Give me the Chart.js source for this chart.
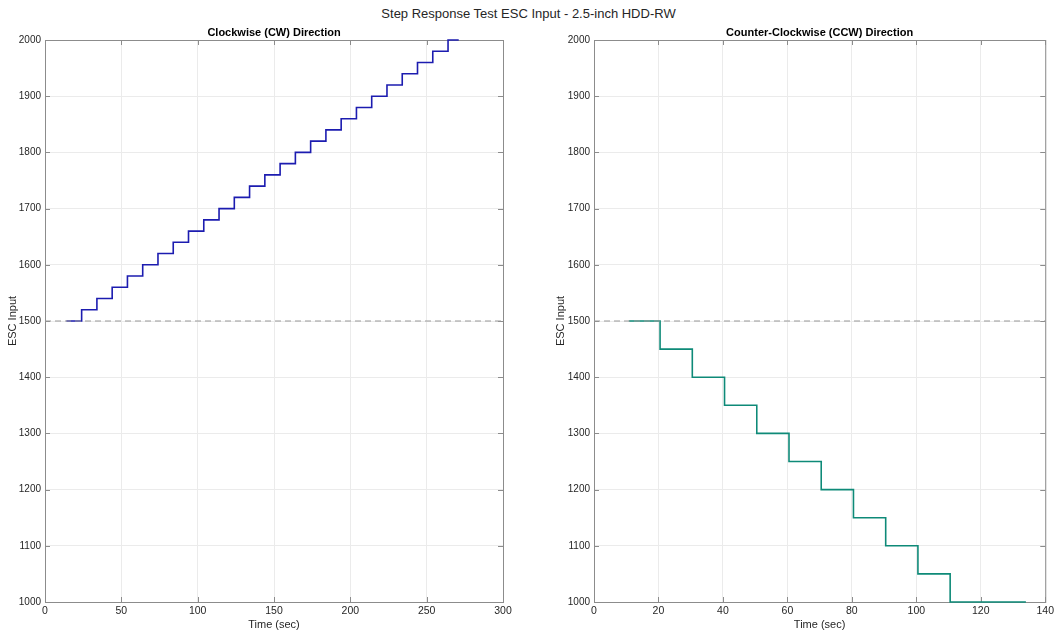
<!DOCTYPE html>
<html>
<head>
<meta charset="utf-8">
<script src="https://cdn.jsdelivr.net/npm/chart.js@4"></script>
<style>
  body { margin: 0; background: #fff; font-family: "Liberation Sans", Arial, sans-serif; }
  #wrap { position: relative; width: 1057px; height: 632px; }
  #mainTitle { position: absolute; top: 6px; left: 0; width: 1057px; text-align: center; font-size: 13px; color: #262626; }
  #cw { position: absolute; left: 0; top: 0; }
  #ccw { position: absolute; left: 540px; top: 0; }
</style>
</head>
<body>
<div id="wrap">
  <div id="mainTitle">Step Response Test ESC Input - 2.5-inch HDD-RW</div>
  <canvas id="cw" width="540" height="632"></canvas>
  <canvas id="ccw" width="517" height="632"></canvas>
</div>
<script>
// datos CW
const cwTime = [14, 24, 34, 44, 54, 64, 74, 84, 94, 104, 114, 124, 134, 144, 154, 164, 174, 184, 194, 204, 214, 224, 234, 244, 254, 264, 271];
const cwInput = [1500, 1520, 1540, 1560, 1580, 1600, 1620, 1640, 1660, 1680, 1700, 1720, 1740, 1760, 1780, 1800, 1820, 1840, 1860, 1880, 1900, 1920, 1940, 1960, 1980, 2000, 2000];

// datos CCW
const ccwTime = [10.8, 20.5, 30.5, 40.5, 50.5, 60.5, 70.5, 80.5, 90.5, 100.5, 110.5, 134];
const ccwInput = [1500, 1450, 1400, 1350, 1300, 1250, 1200, 1150, 1100, 1050, 1000, 1000];

const neutral = 1500;
const yTicks = [1000, 1100, 1200, 1300, 1400, 1500, 1600, 1700, 1800, 1900, 2000];

const fontFam = '"Liberation Sans", Arial, sans-serif';

// caja + ticks hacia adentro + subtitulo
const boxPlugin = {
  id: "box",
  beforeDatasetsDraw(chart) {
    const { ctx, chartArea: a, scales } = chart;
    ctx.save();
    ctx.strokeStyle = "#8c8c8c";
    ctx.lineWidth = 1;
    ctx.strokeRect(a.left + 0.5, a.top + 0.5, a.right - a.left, a.bottom - a.top);
    ctx.beginPath();
    scales.x.ticks.forEach((t) => {
      const px = Math.round(scales.x.getPixelForValue(t.value)) + 0.5;
      ctx.moveTo(px, a.bottom); ctx.lineTo(px, a.bottom - 5);
      ctx.moveTo(px, a.top); ctx.lineTo(px, a.top + 5);
    });
    scales.y.ticks.forEach((t) => {
      const py = Math.round(scales.y.getPixelForValue(t.value)) + 0.5;
      ctx.moveTo(a.left, py); ctx.lineTo(a.left + 5, py);
      ctx.moveTo(a.right, py); ctx.lineTo(a.right - 5, py);
    });
    ctx.stroke();
    ctx.restore();
  },
  afterDraw(chart, args, opts) {
    const { ctx, chartArea: a } = chart;
    ctx.save();
    ctx.fillStyle = "#000";
    ctx.font = "bold 11px " + fontFam;
    ctx.textAlign = "center";
    ctx.textBaseline = "bottom";
    ctx.fillText(opts.text, (a.left + a.right) / 2, a.top - 2);
    ctx.restore();
  },
};

function makeChart(id, times, values, color, xMax, xStep, yAxisW, padRight, titlePad, subtitle) {
  const pts = times.map((t, i) => ({ x: t, y: values[i] }));
  return new Chart(document.getElementById(id).getContext("2d"), {
    type: "line",
    data: {
      datasets: [
        {
          data: [{ x: 0, y: neutral }, { x: xMax, y: neutral }],
          borderColor: "#999999",
          borderWidth: 1,
          borderDash: [6, 4],
          pointRadius: 0,
        },
        {
          data: pts,
          borderColor: color,
          borderWidth: 1.6,
          stepped: "before",
          pointRadius: 0,
          clip: 4,
        },
      ],
    },
    options: {
      responsive: false,
      animation: false,
      layout: { padding: { top: 40, right: padRight, left: 0, bottom: 0 } },
      plugins: {
        legend: { display: false },
        tooltip: { enabled: false },
        box: { text: subtitle },
      },
      scales: {
        x: {
          type: "linear",
          min: 0,
          max: xMax,
          ticks: { stepSize: xStep, color: "#262626", font: { family: fontFam, size: 10.5 }, padding: 3, callback: (v) => String(v) },
          grid: { color: "#ebebeb", drawTicks: false },
          border: { display: false },
          title: { display: true, text: "Time (sec)", color: "#262626", font: { family: fontFam, size: 11 }, padding: 0 },
          afterFit: (s) => { s.height = 30; },
        },
        y: {
          min: 1000,
          max: 2000,
          afterBuildTicks: (s) => { s.ticks = yTicks.map((v) => ({ value: v })); },
          ticks: { color: "#262626", font: { family: fontFam, size: 10 }, padding: 4, callback: (v) => String(v) },
          grid: { color: "#ebebeb", drawTicks: false },
          border: { display: false },
          title: { display: true, text: "ESC Input", color: "#262626", font: { family: fontFam, size: 11 }, padding: { top: titlePad, bottom: 0 } },
          afterFit: (s) => { s.width = yAxisW; },
        },
      },
    },
    plugins: [boxPlugin],
  });
}

makeChart("cw", cwTime, cwInput, "#1c1cb0", 300, 50, 45, 37, 6, "Clockwise (CW) Direction");
makeChart("ccw", ccwTime, ccwInput, "#0e8a78", 140, 20, 54, 9, 14, "Counter-Clockwise (CCW) Direction");
</script>
</body>
</html>
